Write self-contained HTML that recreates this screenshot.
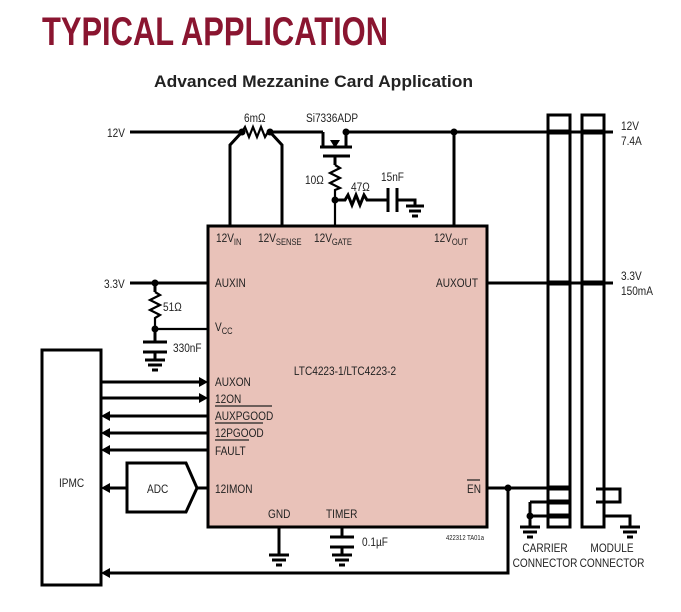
<!DOCTYPE html>
<html><head><meta charset="utf-8"><style>
html,body{margin:0;padding:0;background:#fff;width:681px;height:612px;overflow:hidden}
svg text{font-family:"Liberation Sans",sans-serif}
.c text{transform-box:fill-box;transform-origin:0 50%;transform:scaleX(0.84)}
.c text.m{transform-origin:50% 50%}
</style></head><body>
<svg width="681" height="612" viewBox="0 0 681 612" xmlns="http://www.w3.org/2000/svg">
<text x="42" y="45" font-size="40" font-weight="bold" fill="#8a1530" textLength="346" lengthAdjust="spacingAndGlyphs">TYPICAL APPLICATION</text>
<text x="154" y="87" font-size="17" font-weight="bold" fill="#222" textLength="319" lengthAdjust="spacingAndGlyphs">Advanced Mezzanine Card Application</text>

<g stroke="#000" stroke-width="3" fill="none">
<rect x="208" y="226" width="279" height="301" fill="#e9c2b9"/>
<path d="M130 132 H242 M270 132 H323 M346 132 H613"/>
<path d="M242 132 l3 -5 l4 10 l4 -10 l4 10 l4 -10 l4 10 l3 -5" stroke-width="2.2"/>
<path d="M242 132 L230 145 V226 M270 132 L282 145 V226"/>
<path d="M323 132 V147 M346 132 V147 M320 147 H352 M323 156 H350 M335 156 V165"/>
<path d="M335 165 l5 3 l-10 5 l10 5 l-10 5 l10 5 l-5 2 V226" stroke-width="2.2"/>
<path d="M335 200 H345 l3 -5 l4 10 l4 -10 l4 10 l4 -10 l3 5 H388 M388 188 V212 M397 188 V212 M397 200 H415 V205 M406 206 H424 M409 211 H421 M412 216 H418"/>
<path d="M454 132 V226"/>
<rect x="548" y="115" width="22" height="412"/>
<rect x="582" y="115" width="22" height="412"/>
<path d="M487 283 H613"/>
<path d="M130 283 H208 M155 283 V292"/>
<path d="M155 292 l5 3 l-10 5 l10 5 l-10 5 l10 5 l-5 3 V329 H208" stroke-width="2.2"/>
<path d="M155 329 V342 M143 342 H167 M143 352 H167 M155 352 V360 M145 360 H165 M148 365 H162 M152 370 H158"/>
<rect x="42" y="350" width="59" height="235"/>
<path d="M101 382 H200 M101 398 H200 M110 416 H208 M110 433 H208 M110 450 H208 M110 488 H127 M197 488 H208"/>
<path d="M127 463 H186 L197 488 L186 512 H127 Z"/>
<path d="M487 488 H570 M508 488 V573 H110"/>
<path d="M279 527 V555 M269 555 H289 M272 560 H286 M276 565 H282"/>
<path d="M342 527 V537 M330 537 H354 M330 547 H354 M342 547 V555 M332 555 H352 M335 560 H349 M339 565 H345"/>
<path d="M530 502 H570 M530 502 V527 M530 516 H570 M520 527 H540 M523 532 H537 M527 537 H533"/>
<path d="M596 489 H620 V502 H596 M604 516 H630 V527 M620 527 H640 M623 532 H637 M627 537 H633"/>
</g>
<g stroke="#000" stroke-width="5">
<path d="M548 132 H570 M582 132 H604 M548 283 H570 M582 283 H604 M548 488 H570 M548 502 H570 M548 516 H570"/>
</g>
<g fill="#000">
<circle cx="242" cy="132" r="3.5"/><circle cx="270" cy="132" r="3.5"/><circle cx="346" cy="132" r="3.5"/><circle cx="454" cy="132" r="3.5"/>
<circle cx="335" cy="200" r="3.5"/><circle cx="155" cy="283" r="3.5"/><circle cx="155" cy="329" r="3.5"/>
<circle cx="508" cy="488" r="3.5"/><circle cx="530" cy="516" r="3.5"/>
<path d="M330 140 L340 140 L335 148 Z"/>
<path d="M208 382 l-9 -5 v10 Z M208 398 l-9 -5 v10 Z M101 416 l9 -5 v10 Z M101 433 l9 -5 v10 Z M101 450 l9 -5 v10 Z M101 488 l9 -5 v10 Z M101 573 l9 -5 v10 Z"/>
</g>
<g class="c" font-size="12" fill="#222">
<text x="107" y="137">12V</text>
<text x="244" y="122">6mΩ</text>
<text x="306" y="122">Si7336ADP</text>
<text x="305" y="184">10Ω</text>
<text x="351" y="191">47Ω</text>
<text x="381" y="181">15nF</text>
<text x="621" y="130">12V</text><text x="621" y="145">7.4A</text>
<text x="621" y="280">3.3V</text><text x="621" y="295">150mA</text>
<text x="104" y="288">3.3V</text>
<text x="163" y="311">51Ω</text>
<text x="173" y="352">330nF</text>
<text x="59" y="487">IPMC</text>
<text x="147" y="493">ADC</text>
<text x="216" y="242">12V<tspan font-size="9" dy="3">IN</tspan></text>
<text x="258" y="242">12V<tspan font-size="9" dy="3">SENSE</tspan></text>
<text x="314" y="242">12V<tspan font-size="9" dy="3">GATE</tspan></text>
<text x="434" y="242">12V<tspan font-size="9" dy="3">OUT</tspan></text>
<text x="215" y="287">AUXIN</text>
<text x="436" y="287">AUXOUT</text>
<text x="215" y="331">V<tspan font-size="9" dy="3">CC</tspan></text>
<text class="m" x="345" y="375" text-anchor="middle" font-size="12">LTC4223-1/LTC4223-2</text>
<text x="215" y="386">AUXON</text>
<text x="215" y="403">12ON</text>
<text x="215" y="420">AUXPGOOD</text>
<text x="215" y="437">12PGOOD</text>
<text x="215" y="455">FAULT</text>
<text x="215" y="493">12IMON</text>
<text x="467" y="493">EN</text>
<text x="268" y="518">GND</text>
<text x="326" y="518">TIMER</text>
<text x="362" y="546">0.1µF</text>
<text x="446" y="540" font-size="7">422312 TA01a</text>
<text class="m" x="545" y="552" text-anchor="middle">CARRIER</text>
<text class="m" x="545" y="567" text-anchor="middle">CONNECTOR</text>
<text class="m" x="612" y="552" text-anchor="middle">MODULE</text>
<text class="m" x="612" y="567" text-anchor="middle">CONNECTOR</text>
</g>
<g stroke="#222" stroke-width="1.2">
<path d="M215 406 H272 M215 423 H263 M215 440 H249 M467 480 H480"/>
</g>
</svg>
</body></html>
